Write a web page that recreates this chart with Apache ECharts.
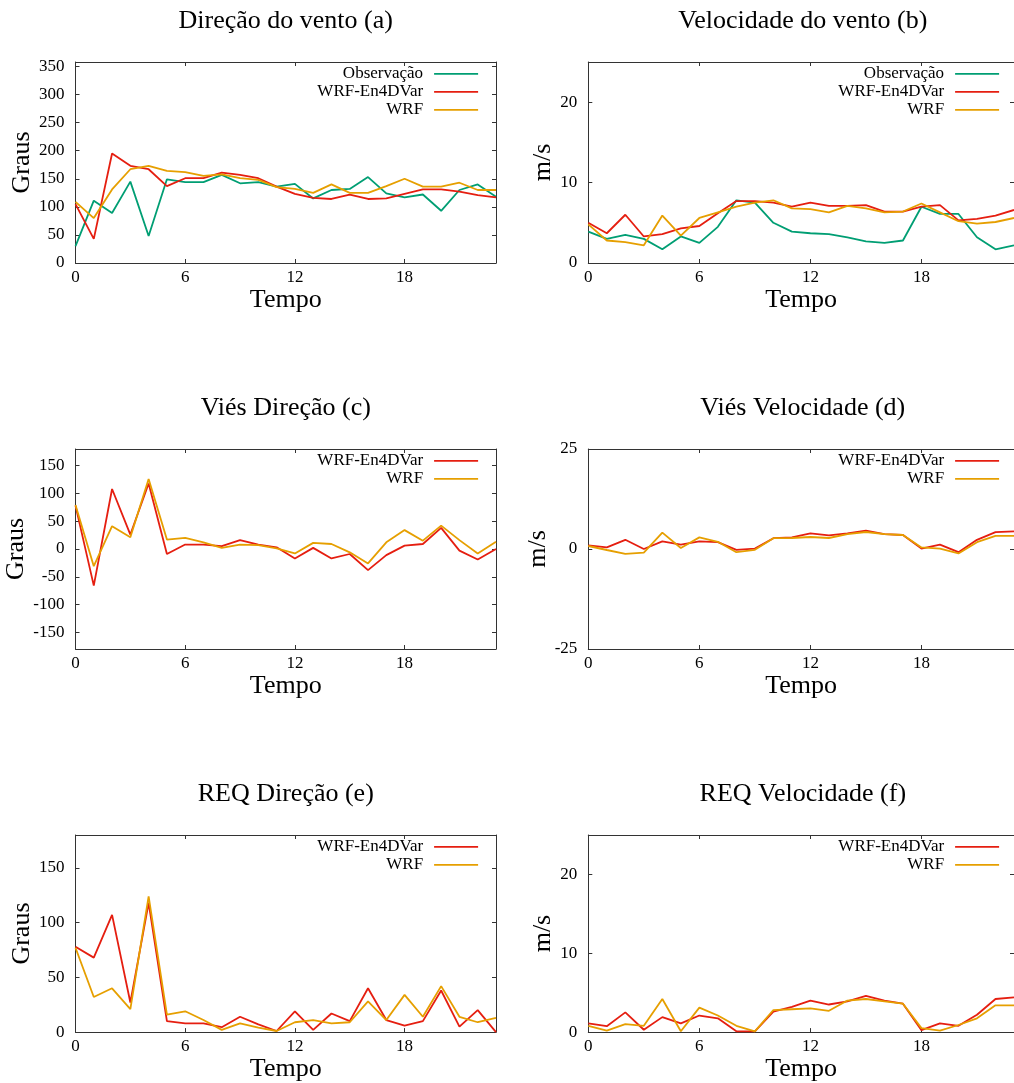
<!DOCTYPE html>
<html><head><meta charset="utf-8">
<script src="https://cdn.jsdelivr.net/npm/echarts@6/dist/echarts.min.js"></script>
<style>html,body{margin:0;padding:0;background:#fff}#c{width:1014px;height:1083px}</style>
</head><body><div id="c"></div>
<script>
// ---- data ----
const hours = [0,1,2,3,4,5,6,7,8,9,10,11,12,13,14,15,16,17,18,19,20,21,22,23];

const dirObs = [30,111,89,145,48,149,144,144,157,142,144,136,141,115,130,132,153,124,117,122,93,130,140,118];
const dirEn  = [105,43,195,173,167,137,151,151,161,157,151,136,123,116,114,122,114,115,123,131,131,127,121,117];
const dirWrf = [109,80,131,167,173,164,162,155,158,151,148,135,132,125,140,125,125,137,150,136,136,143,130,130];

const spdObs = [3.9,3.0,3.5,3.0,1.7,3.3,2.5,4.5,7.8,7.5,5.0,3.9,3.7,3.6,3.2,2.7,2.5,2.8,7.0,6.1,6.1,3.2,1.7,2.2];
const spdEn  = [5.0,3.7,6.0,3.3,3.6,4.3,4.6,6.2,7.7,7.7,7.5,7.0,7.5,7.1,7.1,7.2,6.4,6.4,7.0,7.2,5.3,5.5,5.9,6.6];
const spdWrf = [4.8,2.8,2.6,2.2,5.9,3.4,5.6,6.3,7.0,7.5,7.8,6.8,6.7,6.3,7.1,6.8,6.3,6.4,7.4,6.3,5.2,4.9,5.1,5.6];

const biasDirEn  = [78,-66,108,26,118,-9,8,8,5,16,8,3,-17,2,-17,-9,-38,-11,6,9,38,-3,-19,0];
const biasDirWrf = [79,-31,41,21,126,17,20,12,2,8,7,1,-8,11,9,-6,-26,12,34,15,42,16,-8,13];

const biasSpdEn  = [0.9,0.4,2.3,0,1.9,1.1,1.9,1.7,-0.2,0.1,2.7,2.9,3.9,3.4,3.9,4.6,3.7,3.5,0.1,1.1,-0.8,2.3,4.2,4.4];
const biasSpdWrf = [0.75,-0.25,-1.2,-0.9,4.1,0.25,2.9,1.8,-0.8,-0.2,2.7,2.75,3.0,2.75,3.7,4.25,3.7,3.5,0.4,0.1,-1.1,1.7,3.3,3.3];

const reqDirEn  = [78,68,107,27,118,10,8,8,4.5,14,7,1,19,2,17,10,40,11,6,10,38,5,20,0];
const reqDirWrf = [77,32,40,21,124,16,19,11,2,8,4,1,9,11,8,9,28,11,34,14,42,14,9,13];

const reqSpdEn  = [1.1,0.75,2.5,0.3,1.9,1.1,2.1,1.75,0.1,0.1,2.6,3.2,4.0,3.5,3.9,4.6,4.0,3.6,0.25,1.1,0.8,2.2,4.2,4.4];
const reqSpdWrf = [0.8,0.2,1.0,0.8,4.2,0.1,3.1,2.1,0.8,0.1,2.8,2.9,3.0,2.7,4.0,4.2,3.9,3.6,0.5,0.2,0.9,1.75,3.4,3.4];

const xTickLabels = [0,6,12,18];
const dirTicks = [0,50,100,150,200,250,300,350];
const spdTicks = [0,10,20];
const biasDirTicks = [-150,-100,-50,0,50,100,150];
const biasSpdTicks = [-25,0,25];
const reqDirTicks = [0,50,100,150];

const titles = ['Direção do vento (a)','Velocidade do vento (b)','Viés Direção (c)','Viés Velocidade (d)','REQ Direção (e)','REQ Velocidade (f)'];
const xName = 'Tempo';
const nameObs = 'Observação', nameEn = 'WRF-En4DVar', nameWrf = 'WRF';

// ---- layout / style ----
const FONT = '"Liberation Serif","Times New Roman",serif';
const AX = '#333';
const COLORS = {[nameObs]:'#009e73',[nameEn]:'#e51e10',[nameWrf]:'#e69f00'};
const cols = [{left:75.5,width:420.5,legendRight:535},{left:588.3,width:429,legendRight:14}];
const rows = [{top:62,height:201,titleY:21},{top:449,height:200,titleY:408},{top:835,height:201,titleY:794}];

const panels = [
  {row:0,col:0,min:0,max:358,ticks:dirTicks,yName:'Graus',gap:40,series:[[nameObs,dirObs],[nameEn,dirEn],[nameWrf,dirWrf]]},
  {row:0,col:1,min:0,max:25,ticks:spdTicks,yName:'m/s',gap:30,series:[[nameObs,spdObs],[nameEn,spdEn],[nameWrf,spdWrf]]},
  {row:1,col:0,min:-180,max:180,ticks:biasDirTicks,yName:'Graus',gap:40,series:[[nameEn,biasDirEn],[nameWrf,biasDirWrf]]},
  {row:1,col:1,min:-25,max:25,ticks:biasSpdTicks,yName:'m/s',gap:30,series:[[nameEn,biasSpdEn],[nameWrf,biasSpdWrf]]},
  {row:2,col:0,min:0,max:180,ticks:reqDirTicks,yName:'Graus',gap:40,series:[[nameEn,reqDirEn],[nameWrf,reqDirWrf]]},
  {row:2,col:1,min:0,max:25,ticks:spdTicks,yName:'m/s',gap:30,series:[[nameEn,reqSpdEn],[nameWrf,reqSpdWrf]]}
];

const grid=[], xAxis=[], yAxis=[], series=[], legend=[], graphic=[];
const lineSt = {color:AX,width:1};
panels.forEach((p,i)=>{
  const c = cols[p.col], r = rows[p.row];
  grid.push({left:c.left,top:r.top,width:c.width,height:r.height,containLabel:false});
  const xi = xAxis.length, yi = yAxis.length;
  xAxis.push({gridIndex:i,type:'value',min:0,max:23,position:'bottom',
    axisLine:{show:true,onZero:false,lineStyle:lineSt},
    axisTick:{show:true,inside:true,length:4,customValues:[6,12,18],lineStyle:lineSt},
    axisLabel:{customValues:xTickLabels,margin:6,fontSize:17,fontFamily:FONT,color:'#000'},
    splitLine:{show:false},
    name:xName,nameLocation:'middle',nameGap:21,
    nameTextStyle:{fontSize:26,fontFamily:FONT,color:'#000'}});
  xAxis.push({gridIndex:i,type:'value',min:0,max:23,position:'top',
    axisLine:{show:true,onZero:false,lineStyle:lineSt},
    axisTick:{show:true,inside:true,length:4,customValues:[6,12,18],lineStyle:lineSt},
    axisLabel:{show:false},splitLine:{show:false}});
  yAxis.push({gridIndex:i,type:'value',min:p.min,max:p.max,position:'left',
    axisLine:{show:true,onZero:false,lineStyle:lineSt},
    axisTick:{show:true,inside:true,length:4,customValues:p.ticks,lineStyle:lineSt},
    axisLabel:{customValues:p.ticks,margin:11,fontSize:17,fontFamily:FONT,color:'#000'},
    splitLine:{show:false},
    name:p.yName,nameLocation:'middle',nameGap:p.gap,
    nameTextStyle:{fontSize:26,fontFamily:FONT,color:'#000'}});
  yAxis.push({gridIndex:i,type:'value',min:p.min,max:p.max,position:'right',
    axisLine:{show:true,onZero:false,lineStyle:lineSt},
    axisTick:{show:true,inside:true,length:4,customValues:p.ticks,lineStyle:lineSt},
    axisLabel:{show:false},splitLine:{show:false}});
  p.series.forEach(([name,vals])=>{
    series.push({type:'line',name,xAxisIndex:xi,yAxisIndex:yi,symbol:'none',
      data:hours.map((h,k)=>[h,vals[k]]),
      lineStyle:{color:COLORS[name],width:1.8},itemStyle:{color:COLORS[name]},
      clip:true,animation:false,z:3});
  });
  legend.push({orient:'vertical',align:'right',right:c.legendRight,top:r.top+3.3,padding:0,
    itemWidth:44,itemHeight:18,itemGap:1,
    itemStyle:{opacity:0},
    lineStyle:{width:1.8},
    data:p.series.map(s=>s[0]),
    textStyle:{fontSize:17,fontFamily:FONT,color:'#000',padding:[0,6,0,0]}});
  graphic.push({type:'text',x:c.left+c.width/2,y:r.titleY,
    style:{text:titles[i],fill:'#000',font:'26px '+FONT,align:'center',verticalAlign:'middle'}});
});

const chart = echarts.init(document.getElementById('c'),null,{renderer:'canvas'});
chart.setOption({animation:false,backgroundColor:'#fff',grid,xAxis,yAxis,series,legend,graphic});
</script></body></html>
